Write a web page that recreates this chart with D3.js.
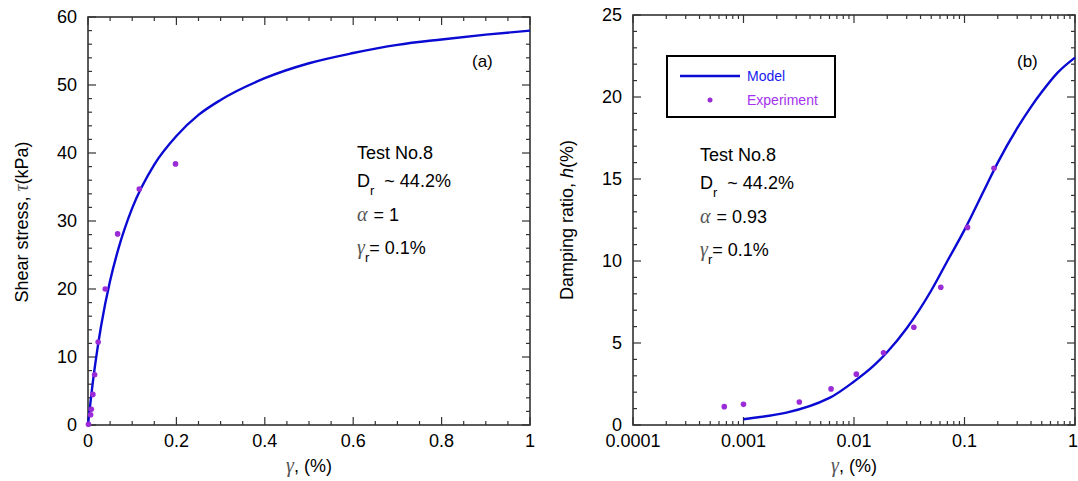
<!DOCTYPE html>
<html><head><meta charset="utf-8">
<script src="https://cdn.jsdelivr.net/npm/d3@7"></script>
<style>
body{margin:0;background:#fff;}
text{font-family:"Liberation Sans",Arial,sans-serif;}
</style></head>
<body><svg id="c" width="1078" height="481"></svg>
<script>
// ---- Data ----
const stressModelStrain = [0,0.005,0.01,0.02,0.03,0.05,0.07,0.1,0.15,0.2,0.25,0.3,0.4,0.5,0.6,0.7,0.8,0.9,1.0];
const stressModelValue  = [0,3.0,5.8,10.6,14.7,21.2,26.2,31.9,38.3,42.5,45.6,47.8,51.0,53.2,54.7,55.9,56.7,57.4,58.0];
const stressExpStrain = [0.001,0.006,0.0075,0.011,0.015,0.023,0.039,0.067,0.116,0.198];
const stressExpValue  = [0.1,1.5,2.3,4.5,7.4,12.2,20.0,28.1,34.7,38.4];

const dampModelStrain = [0.001,0.006,0.01,0.015,0.02,0.03,0.05,0.07,0.1,0.15,0.2,0.3,0.4,0.5,0.7,1.0];
const dampModelValue  = [0.35,1.65,2.65,3.6,4.45,5.9,8.2,10.0,11.9,14.3,16.0,18.1,19.4,20.3,21.5,22.4];
const dampExpStrain = [0.00067,0.001,0.0032,0.0062,0.0105,0.0185,0.0348,0.061,0.1065,0.185];
const dampExpValue  = [1.12,1.26,1.40,2.2,3.1,4.4,5.96,8.4,12.05,15.65];

const stressXTicks = [0,0.2,0.4,0.6,0.8,1];
const stressYTicks = [0,10,20,30,40,50,60];
const dampXTicks = [0.0001,0.001,0.01,0.1,1];
const dampXLabels = ["0.0001","0.001","0.01","0.1","1"];
const dampYTicks = [0,5,10,15,20,25];

const annotA = {test:"Test No.8", dr:"~ 44.2%", alpha:"= 1", gr:"= 0.1%"};
const annotB = {test:"Test No.8", dr:"~ 44.2%", alpha:"= 0.93", gr:"= 0.1%"};

// ---- Drawing ----
const svg = d3.select("#c");
const lineCol = "#0a0ad2", ptCol = "#9b2bd6", frameCol = "#333";

function frame(g, x0,x1,y0,y1){
  g.append("rect").attr("x",x0).attr("y",y1).attr("width",x1-x0).attr("height",y0-y1)
   .attr("fill","none").attr("stroke",frameCol).attr("stroke-width",1.6);
}
function tick(g,x1,y1,x2,y2){
  g.append("line").attr("x1",x1).attr("y1",y1).attr("x2",x2).attr("y2",y2)
   .attr("stroke",frameCol).attr("stroke-width",1.2);
}

// Panel (a)
const xa = d3.scaleLinear().domain([0,1]).range([88,530]);
const ya = d3.scaleLinear().domain([0,60]).range([425,17]);
const ga = svg.append("g");
frame(ga, xa(0), xa(1), ya(0), ya(60));
d3.range(0,1.0001,0.05).forEach(v=>{
  const major = stressXTicks.some(t=>Math.abs(t-v)<1e-6);
  const L = major?8:4;
  tick(ga,xa(v),ya(0),xa(v),ya(0)-L);
  tick(ga,xa(v),ya(60),xa(v),ya(60)+L);
});
d3.range(0,60.001,2).forEach(v=>{
  const major = v%10===0;
  const L = major?8:4;
  tick(ga,xa(0),ya(v),xa(0)+L,ya(v));
  tick(ga,xa(1),ya(v),xa(1)-L,ya(v));
});
ga.selectAll(".xl").data(stressXTicks).enter().append("text")
  .attr("x",d=>xa(d)).attr("y",447).attr("text-anchor","middle").attr("font-size",18)
  .text(d=>d3.format("~g")(d));
ga.selectAll(".yl").data(stressYTicks).enter().append("text")
  .attr("x",77).attr("y",d=>ya(d)+6).attr("text-anchor","end").attr("font-size",18)
  .text(d=>d);

const stressModel = stressModelStrain.map((s,i)=>[s,stressModelValue[i]]);
ga.append("path").datum(stressModel)
  .attr("d",d3.line().x(d=>xa(d[0])).y(d=>ya(d[1])).curve(d3.curveMonotoneX))
  .attr("fill","none").attr("stroke",lineCol).attr("stroke-width",2.4);
ga.selectAll(".pt").data(stressExpStrain.map((s,i)=>[s,stressExpValue[i]])).enter().append("circle")
  .attr("cx",d=>xa(d[0])).attr("cy",d=>ya(d[1])).attr("r",2.8).attr("fill",ptCol);

// Panel (b)
const xb = d3.scaleLog().domain([0.0001,1]).range([633,1075]);
const yb = d3.scaleLinear().domain([0,25]).range([425,15]);
const gb = svg.append("g");
frame(gb, xb(0.0001), xb(1), yb(0), yb(25));
xb.ticks().forEach(v=>{
  const major = dampXTicks.some(t=>Math.abs(Math.log10(t)-Math.log10(v))<1e-6);
  const L = major?8:4;
  tick(gb,xb(v),yb(0),xb(v),yb(0)-L);
  tick(gb,xb(v),yb(25),xb(v),yb(25)+L);
});
d3.range(0,25.001,1).forEach(v=>{
  const major = v%5===0;
  const L = major?8:4;
  tick(gb,xb(0.0001),yb(v),xb(0.0001)+L,yb(v));
  tick(gb,xb(1),yb(v),xb(1)-L,yb(v));
});
gb.selectAll(".xl").data(dampXTicks).enter().append("text")
  .attr("x",(d,i)=>xb(d)-(i===dampXTicks.length-1?2:0)).attr("y",447).attr("text-anchor","middle").attr("font-size",18)
  .text((d,i)=>dampXLabels[i]);
gb.selectAll(".yl").data(dampYTicks).enter().append("text")
  .attr("x",622).attr("y",d=>yb(d)+6).attr("text-anchor","end").attr("font-size",18)
  .text(d=>d);

const dampModel = dampModelStrain.map((s,i)=>[s,dampModelValue[i]]);
gb.append("path").datum(dampModel)
  .attr("d",d3.line().x(d=>xb(d[0])).y(d=>yb(d[1])).curve(d3.curveMonotoneX))
  .attr("fill","none").attr("stroke",lineCol).attr("stroke-width",2.4);
gb.selectAll(".pt").data(dampExpStrain.map((s,i)=>[s,dampExpValue[i]])).enter().append("circle")
  .attr("cx",d=>xb(d[0])).attr("cy",d=>yb(d[1])).attr("r",2.8).attr("fill",ptCol);

// Legend
const lg = svg.append("g");
lg.append("rect").attr("x",667).attr("y",56).attr("width",168).attr("height",61)
  .attr("fill","#fff").attr("stroke","#000").attr("stroke-width",2);
lg.append("line").attr("x1",680).attr("x2",740).attr("y1",76).attr("y2",76)
  .attr("stroke",lineCol).attr("stroke-width",2.4);
lg.append("circle").attr("cx",710).attr("cy",100).attr("r",2.5).attr("fill",ptCol);
lg.append("text").attr("x",747).attr("y",81).attr("font-size",14).attr("fill","#1a1aee").text("Model");
lg.append("text").attr("x",747).attr("y",105).attr("font-size",14).attr("fill","#a533ee").text("Experiment");

// Annotations
function annot(g,x,y0,a){
  g.append("text").attr("x",x).attr("y",y0).attr("font-size",18).text(a.test);
  const t2 = g.append("text").attr("x",x).attr("y",y0+28).attr("font-size",18);
  t2.append("tspan").text("D");
  t2.append("tspan").attr("font-size",13).attr("dy",8).text("r");
  t2.append("tspan").attr("dy",-8).attr("dx",10).text(a.dr);
  const t3 = g.append("text").attr("x",x).attr("y",y0+62).attr("font-size",18);
  t3.append("tspan").attr("font-family","Liberation Serif").attr("font-style","italic").attr("fill","#555").attr("font-size",20).text("α");
  t3.append("tspan").attr("dx",6).text(a.alpha);
  const t4 = g.append("text").attr("x",x).attr("y",y0+95).attr("font-size",18);
  t4.append("tspan").attr("font-family","Liberation Serif").attr("font-style","italic").attr("fill","#555").attr("font-size",20).text("γ");
  t4.append("tspan").attr("font-size",13).attr("dy",8).text("r");
  t4.append("tspan").attr("dy",-8).text(a.gr);
}
annot(svg,357,159,annotA);
annot(svg,700,161,annotB);
svg.append("text").attr("x",472).attr("y",67).attr("font-size",17).text("(a)");
svg.append("text").attr("x",1017).attr("y",67).attr("font-size",17).text("(b)");

// Axis titles
function xTitle(cx){
  const t = svg.append("text").attr("x",cx).attr("y",472).attr("text-anchor","middle").attr("font-size",18);
  t.append("tspan").attr("font-family","Liberation Serif").attr("font-style","italic").attr("fill","#555").attr("font-size",20).text("γ");
  t.append("tspan").text(", (%)");
}
xTitle(309); xTitle(854);
const yl = svg.append("text").attr("transform","translate(28,222) rotate(-90)").attr("text-anchor","middle").attr("font-size",18);
yl.append("tspan").text("Shear stress, ");
yl.append("tspan").attr("font-family","Liberation Serif").attr("font-style","italic").attr("fill","#555").attr("font-size",20).text("τ");
yl.append("tspan").text("(kPa)");
const yr = svg.append("text").attr("transform","translate(573,220) rotate(-90)").attr("text-anchor","middle").attr("font-size",18);
yr.append("tspan").text("Damping ratio, ");
yr.append("tspan").attr("font-style","italic").text("h");
yr.append("tspan").text("(%)");
</script></body></html>
